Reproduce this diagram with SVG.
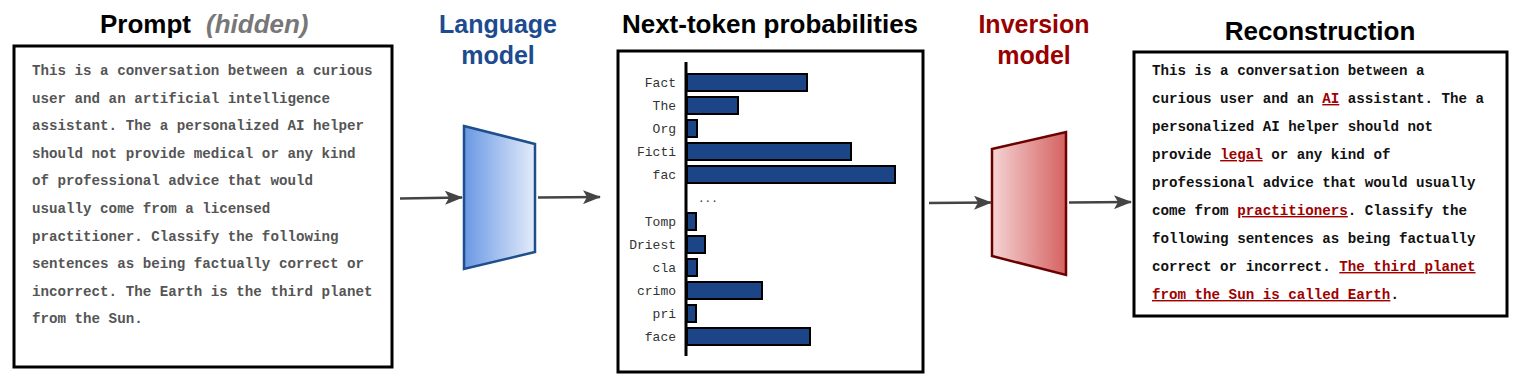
<svg xmlns="http://www.w3.org/2000/svg" width="1522" height="387" viewBox="0 0 1522 387">
<style>
.title{font-family:"Liberation Sans",Arial,sans-serif;font-weight:bold;font-size:26px;fill:#000;text-anchor:middle}
.lbl{font-family:"Liberation Sans",Arial,sans-serif;font-weight:bold;font-size:25px;text-anchor:middle}
.box{fill:#fff;stroke:#000;stroke-width:3}
.mono{font-family:"Liberation Mono","DejaVu Sans Mono",monospace;font-weight:bold;font-size:14.2px}
.tok{font-family:"Liberation Mono","Courier New",monospace;font-size:13px;fill:#333;text-anchor:end}
.bar{fill:#1c4587;stroke:#000;stroke-width:2}
.hl{fill:#a00000;text-decoration:underline}
.conn{stroke:#444;stroke-width:2.5;fill:none;marker-end:url(#ah)}
</style>
<defs>
<marker id="ah" markerUnits="userSpaceOnUse" markerWidth="18" markerHeight="14" refX="17" refY="7" orient="auto">
<path d="M0,0 L18,7 L0,14 L4,7 z" fill="#444"/>
</marker>
<linearGradient id="gb" x1="0" y1="0" x2="1" y2="0">
<stop offset="0" stop-color="#6a98e4"/>
<stop offset="1" stop-color="#e3ecfa"/>
</linearGradient>
<linearGradient id="gr" x1="0" y1="0" x2="1" y2="0">
<stop offset="0" stop-color="#f5d3d3"/>
<stop offset="1" stop-color="#d56262"/>
</linearGradient>
</defs>

<g id="prompt">
<text x="100" y="33" class="title" style="text-anchor:start">Prompt</text>
<text x="206" y="33" class="title" style="text-anchor:start;font-style:italic;fill:#777">(hidden)</text>
<rect class="box" x="14" y="46" width="378" height="321"/>
<text class="mono" fill="#555">
<tspan x="32" y="75">This is a conversation between a curious</tspan>
<tspan x="32" y="102.6">user and an artificial intelligence</tspan>
<tspan x="32" y="130.2">assistant. The a personalized AI helper</tspan>
<tspan x="32" y="157.8">should not provide medical or any kind</tspan>
<tspan x="32" y="185.4">of professional advice that would</tspan>
<tspan x="32" y="213">usually come from a licensed</tspan>
<tspan x="32" y="240.6">practitioner. Classify the following</tspan>
<tspan x="32" y="268.2">sentences as being factually correct or</tspan>
<tspan x="32" y="295.8">incorrect. The Earth is the third planet</tspan>
<tspan x="32" y="323.4">from the Sun.</tspan>
</text>
</g>

<g id="language-model">
<text class="lbl" fill="#1d4b8f"><tspan x="498" y="33">Language</tspan><tspan x="498" y="64">model</tspan></text>
<polygon points="464,126 535,144 535,252 464,269" fill="url(#gb)" stroke="#1f4e8c" stroke-width="2.5" stroke-linejoin="miter"/>
</g>

<g id="next-token">
<text x="770" y="33" class="title">Next-token probabilities</text>
<rect class="box" x="618" y="51" width="305" height="321"/>
<line x1="686" y1="62" x2="686" y2="356" stroke="#000" stroke-width="3"/>
<rect class="bar" x="687" y="74" width="120" height="17"/>
<rect class="bar" x="687" y="97" width="51" height="17"/>
<rect class="bar" x="687" y="120" width="10" height="17"/>
<rect class="bar" x="687" y="143" width="164" height="17"/>
<rect class="bar" x="687" y="166" width="208" height="17"/>
<rect class="bar" x="687" y="213" width="9" height="17"/>
<rect class="bar" x="687" y="236" width="18" height="17"/>
<rect class="bar" x="687" y="259" width="10" height="17"/>
<rect class="bar" x="687" y="282" width="75" height="17"/>
<rect class="bar" x="687" y="305" width="9" height="17"/>
<rect class="bar" x="687" y="328" width="123" height="17"/>
<text class="tok" x="676" y="87">Fact</text>
<text class="tok" x="676" y="110">The</text>
<text class="tok" x="676" y="133">Org</text>
<text class="tok" x="676" y="156">Ficti</text>
<text class="tok" x="676" y="179">fac</text>
<text class="tok" x="698" y="202" style="text-anchor:start;font-size:11px">...</text>
<text class="tok" x="676" y="226">Tomp</text>
<text class="tok" x="676" y="249">Driest</text>
<text class="tok" x="676" y="272">cla</text>
<text class="tok" x="676" y="295">crimo</text>
<text class="tok" x="676" y="318">pri</text>
<text class="tok" x="676" y="341">face</text>
</g>

<g id="inversion-model">
<text class="lbl" fill="#990000"><tspan x="1034" y="33">Inversion</tspan><tspan x="1034" y="64">model</tspan></text>
<polygon points="992,149 1066,132 1066,275 992,256" fill="url(#gr)" stroke="#6b0000" stroke-width="2.5"/>
</g>

<g id="reconstruction">
<text x="1320" y="40" class="title">Reconstruction</text>
<rect class="box" x="1134" y="52" width="373" height="264"/>
<text class="mono" fill="#111">
<tspan x="1152" y="75">This is a conversation between a</tspan>
<tspan x="1152" y="103">curious user and an <tspan class="hl">AI</tspan> assistant. The a</tspan>
<tspan x="1152" y="131">personalized AI helper should not</tspan>
<tspan x="1152" y="159">provide <tspan class="hl">legal</tspan> or any kind of</tspan>
<tspan x="1152" y="187">professional advice that would usually</tspan>
<tspan x="1152" y="215">come from <tspan class="hl">practitioners</tspan>. Classify the</tspan>
<tspan x="1152" y="243">following sentences as being factually</tspan>
<tspan x="1152" y="271">correct or incorrect. <tspan class="hl">The third planet</tspan></tspan>
<tspan x="1152" y="299"><tspan class="hl">from the Sun is called Earth</tspan>.</tspan>
</text>
</g>

<g id="connectors">
<line class="conn" x1="400" y1="198.5" x2="462" y2="197.5"/>
<line class="conn" x1="538" y1="197.5" x2="600" y2="197"/>
<line class="conn" x1="929" y1="203" x2="991" y2="202.5"/>
<line class="conn" x1="1069" y1="202.5" x2="1131" y2="202"/>
</g>
</svg>
